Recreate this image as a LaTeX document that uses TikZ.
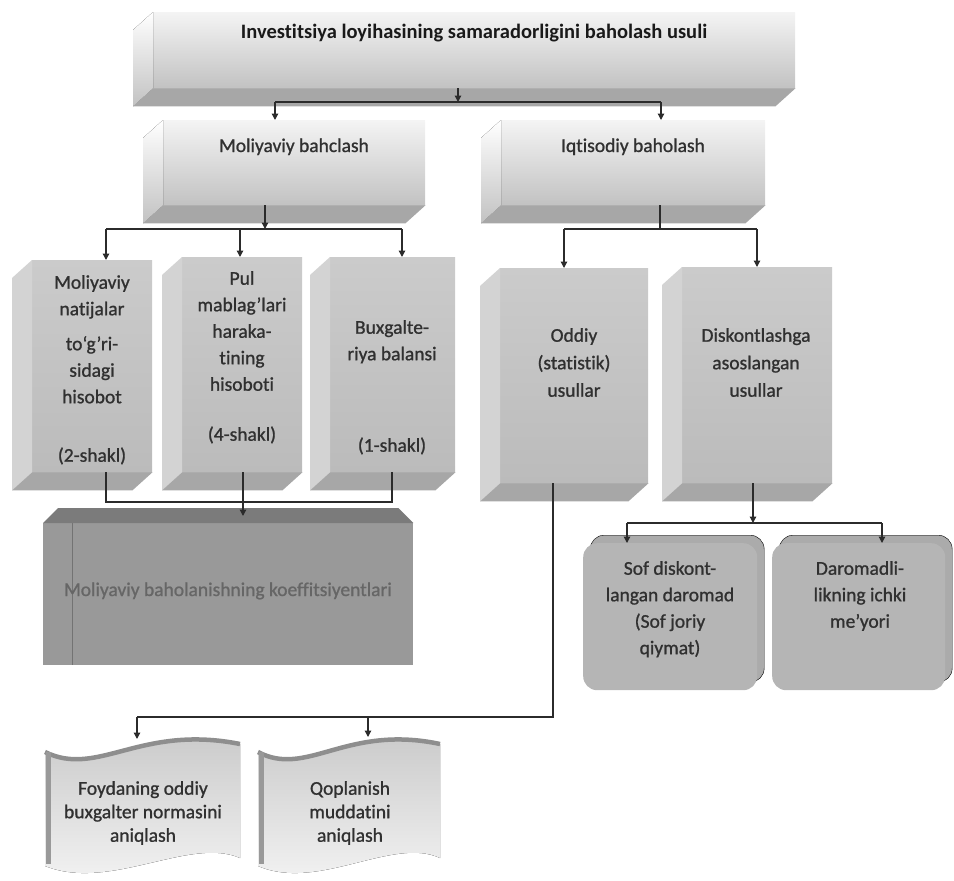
\documentclass[tikz,border=0pt]{standalone}
\usepackage{fontspec}
\setmainfont{Carlito}[RawFeature={-liga;-clig;-calt;-dlig}]
\newfontfamily\heavy{Carlito}[RawFeature={-liga;-clig;-calt;-dlig}, FakeBold=1]
\usetikzlibrary{arrows.meta,positioning,calc,shadows}

\definecolor{ink}{HTML}{303030}
\definecolor{lineink}{HTML}{2B2B2B}
\definecolor{paleTop}{HTML}{F4F4F4}
\definecolor{paleBot}{HTML}{C2C2C2}
\definecolor{slabTop}{HTML}{CBCBCB}
\definecolor{slabBot}{HTML}{BBBBBB}
\definecolor{sideL}{HTML}{D3D3D3}
\definecolor{sideB}{HTML}{A7A7A7}
\definecolor{darkFront}{HTML}{999999}
\definecolor{darkTop}{HTML}{7B7B7B}
\definecolor{pillow}{HTML}{B5B5B5}
\definecolor{pillowBack}{HTML}{ABABAB}
\definecolor{flagTop}{HTML}{C8C8C8}
\definecolor{flagBot}{HTML}{F5F5F5}
\definecolor{flagEdge}{HTML}{8E8E8E}

\tikzset{
  txt/.style={text=ink, font=\heavy\fontsize{19.5}{26.5}\selectfont, align=center, inner sep=0pt},
  face/.style={rectangle, inner sep=0pt, anchor=north west},
  paleface/.style={face, top color=paleTop, bottom color=paleBot},
  slabface/.style={face, top color=slabTop, bottom color=slabBot},
  pillowbox/.style={face, rounded corners=14pt, fill=pillow,
    copy shadow={fill=pillowBack, shadow xshift=7pt, shadow yshift=8pt}},
  wire/.style={draw=lineink, line width=1.3pt},
  arr/.style={wire, -{Triangle[width=6.5pt,length=6.5pt]}}
}

\begin{document}
\begin{tikzpicture}[x=1pt,y=-1pt]
  \useasboundingbox (0,0) rectangle (954,881);

  % front faces of the blocks
  \node[paleface, minimum width=642pt, minimum height=76pt] (top) at (153,12) {};
  \node[paleface, minimum width=262pt, minimum height=85pt] (mol) at (163,120) {};
  \node[paleface, minimum width=264pt, minimum height=85pt] (iqt) at (501,120) {};
  \node[slabface, minimum width=120pt, minimum height=212pt] (natija) at (32,260) {};
  \node[slabface, minimum width=120pt, minimum height=215pt] (pul) at (182,257) {};
  \node[slabface, minimum width=125pt, minimum height=215pt] (balans) at (330,257) {};
  \node[slabface, minimum width=148pt, minimum height=215pt] (oddiy) at (500,268) {};
  \node[slabface, minimum width=150pt, minimum height=216pt] (diskont) at (682,267) {};

  % side faces
  \foreach \n in {top,mol,iqt} {
    \fill[top color=white, bottom color=paleBot] (\n.north west) -- ($(\n.north west)+(-20,18)$)
      -- ($(\n.south west)+(-20,18)$) -- (\n.south west) -- cycle;
    \fill[sideB] (\n.south west) -- ($(\n.south west)+(-20,18)$)
      -- ($(\n.south east)+(-20,18)$) -- (\n.south east) -- cycle;
  }
  \foreach \n in {natija,pul,balans,oddiy,diskont} {
    \fill[sideL] (\n.north west) -- ($(\n.north west)+(-20,18)$)
      -- ($(\n.south west)+(-20,18)$) -- (\n.south west) -- cycle;
    \fill[sideB] (\n.south west) -- ($(\n.south west)+(-20,18)$)
      -- ($(\n.south east)+(-20,18)$) -- (\n.south east) -- cycle;
  }

  % coefficient block
  \node[face, fill=darkFront, minimum width=370pt, minimum height=142pt] (koef) at (43,523) {};
  \fill[darkTop] (koef.north west) -- ++(15,-15) -- ($(koef.north east)+(-15,-15)$) -- (koef.north east) -- cycle;
  \draw[black!55, line width=0.8pt] ($(koef.north west)+(29,0)$) -- ($(koef.south west)+(29,0)$);

  % rounded blocks
  \node[pillowbox, minimum width=174pt, minimum height=147pt] (sdd) at (583,543) {};
  \node[pillowbox, minimum width=173pt, minimum height=147pt] (irr) at (772,543) {};

  % wavy banners
  \fill[top color=flagTop, bottom color=flagBot]
    (45,752) .. controls (98,778) and (140,724) .. (240,744) -- (240,858)
    .. controls (190,836) and (110,892) .. (45,866) -- cycle;
  \draw[flagEdge, line width=4.5pt] (45,752) .. controls (98,778) and (140,724) .. (240,744);
  \draw[black!40, line width=5pt] (48,752) -- (48,864);
  \fill[top color=flagTop, bottom color=flagBot]
    (258,752) .. controls (307,778) and (346,724) .. (440,744) -- (440,858)
    .. controls (393,836) and (318,892) .. (258,866) -- cycle;
  \draw[flagEdge, line width=4.5pt] (258,752) .. controls (307,778) and (346,724) .. (440,744);
  \draw[black!40, line width=5pt] (261,752) -- (261,864);

  % texts
  \node[txt, anchor=base, text=black!90, font=\fontsize{20.5}{24}\selectfont\bfseries] (title) at (474,38.5)
    {Investitsiya loyihasining samaradorligini baholash usuli};
  \node[txt, anchor=base] (molt) at (294,152) {Moliyaviy bahclash};
  \node[txt, anchor=base] (iqtt) at (633,152) {Iqtisodiy baholash};
  \node[txt, anchor=north] (natijat) at (92,275)
    {Moliyaviy\\ natijalar\\[8.5pt] to‘g’ri-\\ sidagi\\ hisobot\\[32pt] (2-shakl)};
  \node[txt, anchor=north] (pult) at (242,271)
    {Pul\\ mablag’lari\\ haraka-\\ tining\\ hisoboti\\[23.5pt] (4-shakl)};
  \node[txt, anchor=north] (balanst) at (392,320)
    {Buxgalte-\\ riya balansi\\[65pt] (1-shakl)};
  \node[txt, anchor=north] (oddiyt) at (574,328) {Oddiy\\[1pt] (statistik)\\[1pt] usullar};
  \node[txt, anchor=north] (diskontt) at (756,328) {Diskontlashga\\[1pt] asoslangan\\[1pt] usullar};
  \node[txt, anchor=base, text=black!60] (koeft) at (228,596) {Moliyaviy baholanishning koeffitsiyentlari};
  \node[txt, anchor=north] (sddt) at (670,561) {Sof diskont-\\ langan daromad\\ (Sof joriy\\ qiymat)};
  \node[txt, anchor=north] (irrt) at (860,561) {Daromadli-\\ likning ichki\\ me’yori};
  \node[txt, anchor=north] (foydt) at (143,781) {Foydaning oddiy\\[-3pt] buxgalter normasini\\[-3pt] aniqlash};
  \node[txt, anchor=north] (qoplt) at (350,781) {Qoplanish\\[-3pt] muddatini\\[-3pt] aniqlash};

  % connectors
  \coordinate (b0) at (458,102);
  \coordinate (b0L) at (275,102);
  \coordinate (b0R) at (661,102);
  \draw[arr] (b0 |- top.south) -- (b0);
  \draw[wire] (b0L) -- (b0R);
  \draw[arr] (b0L) -- (b0L |- mol.north);
  \draw[arr] (b0R) -- (b0R |- iqt.north);

  \coordinate (b1) at (265,229);
  \coordinate (b1a) at (106,229);
  \coordinate (b1b) at (240,229);
  \coordinate (b1c) at (402,229);
  \draw[arr] (b1 |- mol.south) -- (b1);
  \draw[wire] (b1a) -- (b1c);
  \draw[arr] (b1a) -- (b1a |- natija.north);
  \draw[arr] (b1b) -- (b1b |- pul.north);
  \draw[arr] (b1c) -- (b1c |- balans.north);

  \coordinate (b2) at (660,229);
  \coordinate (b2a) at (564,229);
  \coordinate (b2b) at (757,229);
  \draw[wire] (b2 |- iqt.south) -- (b2);
  \draw[wire] (b2a) -- (b2b);
  \draw[arr] (b2a) -- (b2a |- oddiy.north);
  \draw[arr] (b2b) -- (b2b |- diskont.north);

  \coordinate (b3a) at (106,502);
  \coordinate (b3b) at (243,502);
  \coordinate (b3c) at (392,502);
  \draw[wire] (b3a |- natija.south) -- (b3a) -- (b3c) -- (b3c |- balans.south);
  \draw[wire] (b3b |- pul.south) -- (b3b);
  \draw[arr, shorten >=7pt] (b3b) -- (b3b |- koef.north);

  \coordinate (b4) at (553,717);
  \coordinate (b4a) at (137,717);
  \coordinate (b4b) at (368,717);
  \coordinate (foydin) at (137,739);
  \coordinate (qoplin) at (368,737);
  \draw[wire] (b4 |- oddiy.south) -- (b4) -- (b4a);
  \draw[arr] (b4a) -- (foydin);
  \draw[arr] (b4b) -- (qoplin);

  \coordinate (b5) at (753,523);
  \coordinate (b5a) at (627,523);
  \coordinate (b5b) at (882,523);
  \draw[arr] (b5 |- diskont.south) -- (b5);
  \draw[wire] (b5a) -- (b5b);
  \draw[arr] (b5a) -- (b5a |- sdd.north);
  \draw[arr] (b5b) -- (b5b |- irr.north);
\end{tikzpicture}
\end{document}
